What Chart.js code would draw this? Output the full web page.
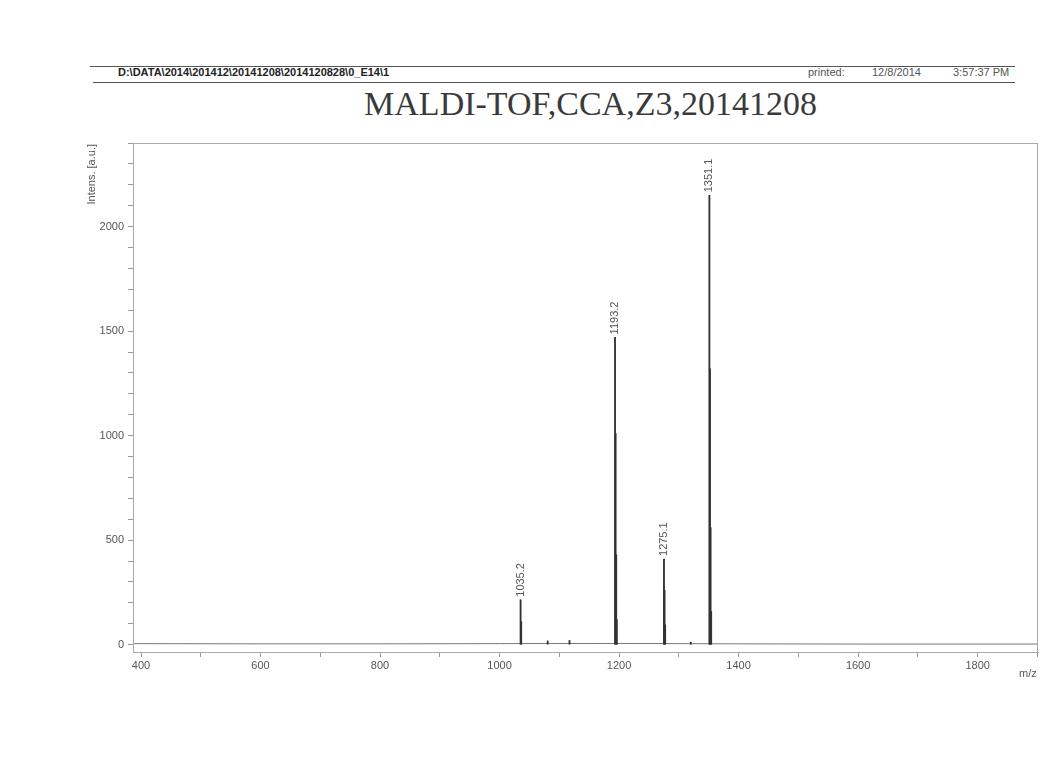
<!DOCTYPE html>
<html>
<head>
<meta charset="utf-8">
<script src="https://cdn.jsdelivr.net/npm/chart.js@4.4.1/dist/chart.umd.min.js"></script>
<style>
  html, body { margin: 0; padding: 0; background: #fff; }
  #page { position: relative; width: 1041px; height: 775px; overflow: hidden; font-family: 'Liberation Sans', Arial, sans-serif; }
  .rule { position: absolute; height: 0; border-top: 1px solid #555; }
  .hdr { position: absolute; top: 66px; font-size: 11px; color: #333; white-space: nowrap; }
  #title { position: absolute; top: 85px; left: 0; width: 1181px; text-align: center; font-family: 'Liberation Serif', 'Times New Roman', serif; font-size: 34px; color: #3a3a3a; }
  #chart { position: absolute; left: 0; top: 0; }
</style>
</head>
<body>
<div id="page">
  <div class="rule" style="left:90px; top:66px; width:925px;"></div>
  <div class="rule" style="left:93px; top:82px; width:922px;"></div>
  <div class="hdr" style="left:118px; font-weight:bold; color:#222;">D:\DATA\2014\201412\20141208\2014120828\0_E14\1</div>
  <div class="hdr" style="left:808px; color:#555;">printed:</div>
  <div class="hdr" style="left:872px; color:#555;">12/8/2014</div>
  <div class="hdr" style="left:953px; color:#555;">3:57:37 PM</div>
  <div id="title">MALDI-TOF,CCA,Z3,20141208</div>
  <canvas id="chart" width="1041" height="775"></canvas>
</div>
<script>
// Spectrum peaks (m/z and intensity), isotopes included
const peakMz = [1035.2, 1036.2, 1080.5, 1117.0, 1193.2, 1194.2, 1195.2, 1196.2, 1275.1, 1276.1, 1277.1, 1320.0, 1351.1, 1352.1, 1353.1, 1354.1];
const peakInt = [215, 110, 18, 20, 1470, 1010, 430, 120, 410, 260, 95, 12, 2150, 1320, 560, 160];

// Baseline noise trace
const baseMz = [387, 600, 800, 1000, 1200, 1400, 1600, 1901];
const baseInt = [5, 4, 4, 5, 6, 4, 3, 3];

// Annotated peaks
const labelMz = [1035.2, 1193.2, 1275.1, 1351.1];
const labelInt = [215, 1470, 410, 2150];
const labelText = ['1035.2', '1193.2', '1275.1', '1351.1'];

// Axis ranges and ticks
const xMin = 386.6, xMax = 1901;
const yMin = -35, yMax = 2400;
const xLabelEvery = 200;
const yLabelEvery = 500;

const tickFont = { family: "'Liberation Sans', Arial, sans-serif", size: 11 };

const frameAndLabels = {
  id: 'frameAndLabels',
  afterDatasetsDraw(chart) {
    const { ctx, chartArea: a, scales } = chart;
    ctx.save();
    // plot frame
    ctx.strokeStyle = '#aaa';
    ctx.lineWidth = 1;
    ctx.strokeRect(a.left + 0.5, a.top + 0.5, a.right - a.left - 1, a.bottom - a.top);

    // peak annotations
    ctx.fillStyle = '#555';
    ctx.font = "11px 'Liberation Sans', Arial, sans-serif";
    ctx.textAlign = 'left';
    ctx.textBaseline = 'middle';
    labelText.forEach((t, i) => {
      const px = scales.x.getPixelForValue(labelMz[i]);
      const py = scales.y.getPixelForValue(labelInt[i]);
      ctx.save();
      ctx.translate(px, py - 3);
      ctx.rotate(-Math.PI / 2);
      ctx.fillText(t, 0, 0);
      ctx.restore();
    });

    // axis titles
    ctx.fillStyle = '#555';
    ctx.save();
    ctx.translate(92, a.top + 1);
    ctx.rotate(-Math.PI / 2);
    ctx.textAlign = 'right';
    ctx.fillText('Intens. [a.u.]', 0, 0);
    ctx.restore();
    ctx.textAlign = 'left';
    ctx.fillText('m/z', 1019, a.bottom + 22);
    ctx.restore();
  }
};

new Chart(document.getElementById('chart'), {
  data: {
    datasets: [
      {
        type: 'bar',
        data: peakMz.map((m, i) => ({ x: m, y: peakInt[i] })),
        backgroundColor: '#333',
        barThickness: 1.2,
        order: 1
      },
      {
        type: 'line',
        data: baseMz.map((m, i) => ({ x: m, y: baseInt[i] })),
        borderColor: '#777',
        borderWidth: 1,
        pointRadius: 0,
        tension: 0,
        order: 2
      }
    ]
  },
  options: {
    responsive: false,
    animation: false,
    layout: { padding: { left: 60, top: 143, right: 3, bottom: 93 } },
    plugins: { legend: { display: false }, tooltip: { enabled: false }, title: { display: false } },
    scales: {
      x: {
        type: 'linear',
        min: xMin,
        max: xMax,
        offset: false,
        afterFit: s => { s.height = 30; },
        ticks: {
          stepSize: 100,
          includeBounds: false,
          autoSkip: false,
          maxRotation: 0,
          padding: 2,
          color: '#555',
          font: tickFont,
          callback: v => (v % xLabelEvery === 0 ? v : '')
        },
        grid: { drawOnChartArea: false, offset: false, tickLength: 5, color: '#999' },
        border: { color: '#999' }
      },
      y: {
        type: 'linear',
        min: yMin,
        max: yMax,
        afterFit: s => { s.width = 73; },
        ticks: {
          stepSize: 100,
          includeBounds: false,
          autoSkip: false,
          padding: 4,
          color: '#555',
          font: tickFont,
          callback: v => (v % yLabelEvery === 0 ? v : '')
        },
        grid: { drawOnChartArea: false, tickLength: 5, color: '#999' },
        border: { color: '#999' }
      }
    }
  },
  plugins: [frameAndLabels]
});
</script>
</body>
</html>
